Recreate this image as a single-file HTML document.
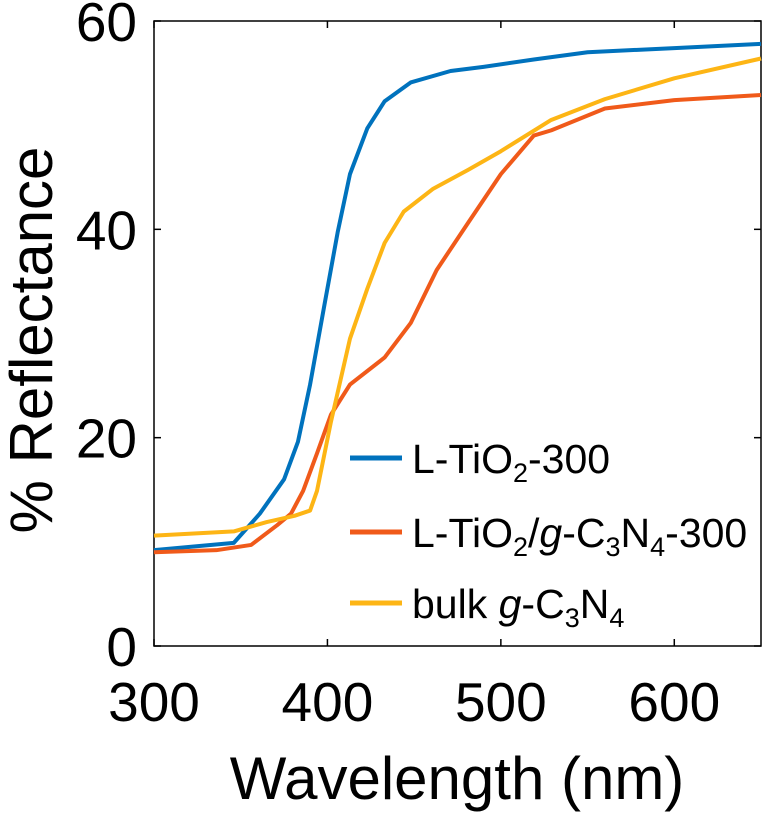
<!DOCTYPE html>
<html><head><meta charset="utf-8"><style>
body{margin:0;background:#fff;}
svg{font-family:"Liberation Sans",sans-serif;}
</style></head><body>
<svg width="765" height="815">
<g id="plot"></g>
</svg>
<script>
const xTicks=[300,400,500,600];
const yTicks=[0,20,40,60];
const blueWl=[300,346,361,375,383,390,398,406,413,423,433,448,471,490,519,550,600,650];
const blueR=[9.2,9.9,12.7,16,19.6,25.1,32.5,39.8,45.3,49.7,52.3,54.1,55.2,55.6,56.3,57,57.4,57.8];
const orangeWl=[300,336,356,371,379,386,394,402,413,433,448,463,481,500,519,529,560,600,650];
const orangeR=[9.0,9.2,9.7,11.6,12.7,14.9,18.5,22.2,25.1,27.7,31,36.1,40.6,45.3,49,49.5,51.6,52.4,52.9];
const yellowWl=[300,346,365,381,390,394,402,413,423,433,444,461,481,500,529,560,600,650];
const yellowR=[10.6,11,11.9,12.5,13,14.9,21.5,29.5,34.3,38.7,41.7,43.9,45.7,47.5,50.5,52.5,54.5,56.4];
const L=154,R=761,T=21,B=646;
const sx=v=>L+(v-300)/350*(R-L);
const sy=v=>B-v/60*(B-T);
const ns="http://www.w3.org/2000/svg";
const g=document.getElementById('plot');
function mk(t,a){const e=document.createElementNS(ns,t);for(const k in a)e.setAttribute(k,a[k]);g.appendChild(e);return e;}
function line(wl,r,c,name){
 const p=mk('polyline',{points:wl.map((w,i)=>sx(w)+','+sy(r[i])).join(' '),fill:'none',stroke:c,'stroke-width':4,'stroke-linejoin':'round'});
 
 
}
const fr=mk('rect',{x:L,y:T,width:R-L,height:B-T,fill:'none',stroke:'#000','stroke-width':1.5});


xTicks.forEach(v=>{
 mk('line',{x1:sx(v),x2:sx(v),y1:B,y2:B-7,stroke:'#000','stroke-width':1.5});
 mk('line',{x1:sx(v),x2:sx(v),y1:T,y2:T+7,stroke:'#000','stroke-width':1.5});
 const t=mk('text',{x:sx(v),y:721,'font-size':55,'text-anchor':'middle'});t.textContent=v;
 
 
});
yTicks.forEach(v=>{
 mk('line',{x1:L,x2:L+7,y1:sy(v),y2:sy(v),stroke:'#000','stroke-width':1.5});
 mk('line',{x1:R,x2:R-7,y1:sy(v),y2:sy(v),stroke:'#000','stroke-width':1.5});
 const t=mk('text',{x:L-17,y:sy(v)+20,'font-size':55,'text-anchor':'end'});t.textContent=v;
 
 
});
line(blueWl,blueR,'#0072BD','series-l-tio2-300');
line(orangeWl,orangeR,'#F05A1A','series-l-tio2-gc3n4-300');
line(yellowWl,yellowR,'#FDB515','series-bulk-gc3n4');
const xt=mk('text',{x:457,y:799,'font-size':60,'text-anchor':'middle'});xt.textContent='Wavelength (nm)';


const yt=mk('text',{x:0,y:0,'font-size':60,'text-anchor':'middle',transform:'translate(52,340) rotate(-90)'});yt.textContent='% Reflectance';


const leg=[['#0072BD','L-TiO<tspan font-size="27" dy="9">2</tspan><tspan dy="-9">-300</tspan>',458],
['#F05A1A','L-TiO<tspan font-size="27" dy="9">2</tspan><tspan dy="-9">/</tspan><tspan font-style="italic">g</tspan>-C<tspan font-size="27" dy="9">3</tspan><tspan dy="-9">N</tspan><tspan font-size="27" dy="9">4</tspan><tspan dy="-9">-300</tspan>',532],
['#FDB515','bulk <tspan font-style="italic">g</tspan>-C<tspan font-size="27" dy="9">3</tspan><tspan dy="-9">N</tspan><tspan font-size="27" dy="9">4</tspan>',603]];
leg.forEach(([c,h,y])=>{
 const l=mk('line',{x1:350,x2:402,y1:y,y2:y,stroke:c,'stroke-width':5});
 
 
 const t=mk('text',{x:412,y:y+15,'font-size':41});t.innerHTML=h;
 
 
});
</script>
</body></html>
